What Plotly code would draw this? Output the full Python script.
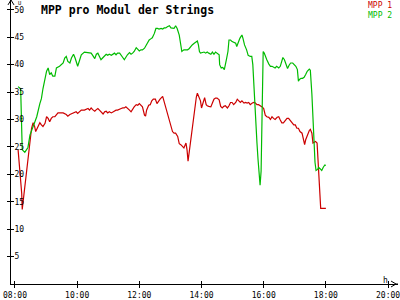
import plotly.graph_objects as go

title_text = "MPP pro Modul der Strings"
series_names = ["MPP 1", "MPP 2"]
series_colors = ["#cc0000", "#00bb00"]

# MPP 1 (red)
t_mpp1 = ["08:06","08:10","08:13","08:14","08:17","08:21","08:24","08:27","08:29","08:32",
          "08:35","08:38","08:40","08:45","08:48","08:51","08:54","08:58","09:01","09:04",
          "09:07","09:10","09:13","09:17","09:20","09:23","09:26","09:33","09:39","09:42",
          "09:46","09:52","09:58","10:01","10:05","10:08","10:14","10:21","10:24","10:27",
          "10:30","10:34","10:37","10:40","10:43","10:46","10:50","10:53","10:56","10:59",
          "11:02","11:06","11:09","11:12","11:15","11:18","11:22","11:25","11:28","11:31",
          "11:34","11:37","11:41","11:44","11:47","11:50","11:54","11:57","12:00","12:03",
          "12:06","12:10","12:12","12:14","12:18","12:21","12:24","12:27","12:31","12:34",
          "12:37","12:40","12:45","12:48","12:51","12:54","12:58","13:01","13:04","13:07",
          "13:10","13:14","13:17","13:20","13:23","13:26","13:30","13:32","13:34","13:36",
          "13:39","13:41","13:44","13:46","13:48","13:50","13:52","13:55","13:58","14:00",
          "14:04","14:06","14:09","14:11","14:14","14:18","14:21","14:24","14:27","14:30",
          "14:34","14:37","14:40","14:43","14:46","14:50","14:53","14:56","14:59","15:02",
          "15:06","15:09","15:12","15:15","15:18","15:22","15:25","15:28","15:31","15:34",
          "15:38","15:41","15:44","15:47","15:50","15:54","15:57","16:00","16:03","16:06",
          "16:10","16:13","16:16","16:19","16:22","16:26","16:29","16:32","16:35","16:38",
          "16:42","16:45","16:48","16:51","16:54","16:58","17:01","17:04","17:07","17:10",
          "17:14","17:17","17:19","17:21","17:24","17:28","17:30","17:33","17:35","17:37",
          "17:40","17:43","17:45","17:47","17:49","17:50","18:00"]
mpp1 = [24.5,20.0,16.5,13.6,16.0,19.5,22.5,25.0,26.8,28.4,
        29.4,28.7,27.8,28.7,29.4,29.0,28.7,29.3,30.5,30.2,
        29.6,30.2,30.5,30.5,30.8,31.2,31.2,31.2,30.9,30.6,
        30.9,31.2,31.4,31.1,31.4,31.7,31.7,32.0,31.7,32.1,
        31.8,31.5,31.8,32.0,31.7,31.4,31.0,31.4,31.5,31.2,
        31.4,31.2,31.4,31.5,31.7,31.7,31.8,32.0,32.1,32.1,
        32.3,32.1,31.7,31.4,32.0,32.3,32.7,32.6,32.9,32.6,
        32.3,30.8,30.6,31.7,32.6,32.7,33.4,33.7,33.7,32.9,
        33.4,33.7,34.2,33.2,32.3,31.4,30.2,29.0,27.8,27.5,
        27.5,26.9,25.6,25.4,25.1,24.8,25.7,24.5,22.4,23.9,
        25.7,27.5,29.6,31.1,32.6,34.1,34.8,34.1,33.4,32.1,
        33.2,34.0,32.7,32.5,32.4,32.3,33.0,33.7,33.9,33.9,
        33.6,32.4,32.1,32.4,32.5,32.1,32.5,33.1,33.1,32.7,
        33.1,33.7,33.4,33.1,33.4,33.0,33.1,33.0,33.1,32.7,
        33.0,33.1,33.0,32.7,32.7,32.5,32.3,32.0,30.8,30.5,
        30.4,30.0,30.5,30.2,30.0,30.4,30.5,29.9,29.4,29.4,
        30.0,30.2,30.2,29.8,29.3,29.0,29.0,28.4,28.4,27.8,
        27.5,26.3,25.4,26.3,27.2,28.0,28.2,27.5,25.7,25.8,
        26.0,25.7,22.2,18.0,14.0,13.8,13.8]

# MPP 2 (green)
t_mpp2 = ["08:06","08:11","08:14","08:19","08:25","08:29","08:35","08:42","08:48","08:51",
          "08:54","08:58","09:01","09:04","09:07","09:10","09:13","09:17","09:20","09:26",
          "09:33","09:36","09:39","09:42","09:46","09:49","09:53","09:56","09:59","10:01",
          "10:05","10:08","10:14","10:21","10:27","10:30","10:34","10:37","10:40","10:43",
          "10:46","10:50","10:53","10:56","10:59","11:02","11:06","11:09","11:12","11:15",
          "11:18","11:22","11:25","11:28","11:31","11:34","11:37","11:41","11:44","11:47",
          "11:50","11:54","11:57","12:00","12:03","12:06","12:10","12:13","12:16","12:19",
          "12:22","12:25","12:29","12:32","12:35","12:38","12:42","12:45","12:48","12:51",
          "12:54","12:58","13:01","13:04","13:07","13:10","13:13","13:17","13:20","13:22",
          "13:26","13:30","13:33","13:36","13:39","13:42","13:46","13:49","13:52","13:54",
          "13:56","13:58","14:01","14:05","14:08","14:11","14:14","14:18","14:21","14:24",
          "14:27","14:30","14:34","14:35","14:38","14:41","14:44","14:48","14:51","14:53",
          "14:56","14:59","15:02","15:06","15:08","15:11","15:14","15:16","15:18","15:20",
          "15:23","15:27","15:30","15:34","15:37","15:39","15:41","15:43","15:45","15:47",
          "15:49","15:51","15:53","15:55","15:57","15:59","16:01","16:03","16:06","16:10",
          "16:13","16:16","16:19","16:22","16:25","16:29","16:32","16:35","16:37","16:40",
          "16:43","16:46","16:49","16:52","16:56","16:59","17:02","17:05","17:07","17:09",
          "17:12","17:15","17:18","17:21","17:24","17:28","17:30","17:33","17:35","17:37",
          "17:39","17:41","17:44","17:46","17:49","17:52","17:55","17:58","18:00"]
mpp2 = [36.0,35.6,24.5,24.0,24.9,27.2,28.7,30.5,32.9,33.8,
        35.6,37.4,38.8,39.4,38.2,38.5,37.9,37.9,39.4,39.7,
        40.3,41.2,41.5,40.6,40.3,41.2,41.9,41.2,40.2,39.7,
        40.9,41.8,42.3,42.2,42.1,41.7,41.1,41.9,42.1,41.5,
        40.9,41.3,41.7,41.9,41.7,41.9,41.7,41.9,42.1,41.8,
        42.1,42.1,41.8,41.3,40.9,41.5,41.8,42.2,41.9,42.1,
        42.4,43.1,42.7,42.5,42.7,42.7,43.0,43.6,44.1,44.5,
        44.7,44.9,45.7,46.6,46.6,46.5,46.6,46.5,46.7,46.7,
        46.9,47.1,46.7,46.7,46.6,47.1,46.6,45.4,43.6,42.4,
        42.7,42.7,42.7,42.9,43.3,43.6,43.9,44.1,44.3,43.6,
        42.4,42.1,42.2,42.3,42.1,42.3,42.1,41.9,42.3,41.9,
        42.3,42.1,41.8,40.0,39.4,39.5,39.1,40.9,42.4,44.5,
        44.5,44.2,44.1,43.9,43.3,44.2,44.8,45.1,45.4,44.8,
        43.6,42.7,41.7,41.5,41.5,40.0,35.8,31.1,27.8,25.7,
        22.8,19.7,18.0,20.6,36.4,42.4,42.1,41.5,40.9,40.1,
        39.7,39.7,39.5,39.4,39.7,39.4,39.7,40.9,41.3,40.9,
        39.9,39.3,39.9,40.3,40.3,40.0,39.7,39.1,37.0,37.3,
        37.5,37.5,37.7,38.2,38.8,39.2,39.0,34.6,29.3,24.5,
        22.2,20.7,20.9,21.3,20.9,20.7,21.3,21.7,21.6]

x_ticks = ["08:00", "10:00", "12:00", "14:00", "16:00", "18:00", "20:00"]
y_ticks = [5, 10, 15, 20, 25, 30, 35, 40, 45, 50]
x_range = ["07:52:20", "20:19:10"]
y_range = [0, 51.79]
y_unit = "U"
x_unit = "h"

DAY = "2024-01-01 "
def d(t):
    return DAY + t

W, H = 400, 300
ML, MR, MT, MB = 11, 0, 0, 10
PW, PH = W - ML - MR, H - MT - MB

def px(x):
    return (x - ML) / PW

def py(y):
    return 1 - (y - MT) / PH

MONO = "DejaVu Sans Mono"

fig = go.Figure()
for name, col, tt, vv in [(series_names[0], series_colors[0], t_mpp1, mpp1),
                          (series_names[1], series_colors[1], t_mpp2, mpp2)]:
    fig.add_trace(go.Scatter(x=[d(t) for t in tt], y=vv, mode="lines", name=name,
                             line=dict(color=col, width=1.2), showlegend=False))

axis_common = dict(showgrid=False, zeroline=False)
fig.update_layout(
    width=W, height=H,
    margin=dict(l=ML, r=MR, t=MT, b=MB),
    paper_bgcolor="#ffffff", plot_bgcolor="#ffffff",
    xaxis=dict(type="date", range=[d(x_range[0]), d(x_range[1])],
               tickvals=[d(t) for t in x_ticks], ticktext=x_ticks,
               ticks="outside", ticklen=3, tickcolor="#000", tickwidth=1,
               ticklabeloverflow="allow",
               showline=True, linecolor="#000", linewidth=1,
               tickfont=dict(family=MONO, size=8, color="#000"), **axis_common),
    yaxis=dict(range=y_range, tickvals=y_ticks,
               ticks="outside", ticklen=3, tickcolor="#000", tickwidth=1,
               ticklabelposition="inside", ticklabelstandoff=2,
               ticklabeloverflow="allow",
               showline=True, linecolor="#000", linewidth=1,
               tickfont=dict(family=MONO, size=8, color="#000"), **axis_common),
    xaxis2=dict(type="date", range=[d(x_range[0]), d(x_range[1])], overlaying="x",
                tickvals=[d(t) for t in x_ticks], ticks="inside", ticklen=3,
                tickcolor="#000", showticklabels=False, showline=False, **axis_common),
    yaxis2=dict(range=y_range, overlaying="y", tickvals=y_ticks, ticks="inside", ticklen=3,
                tickcolor="#000", showticklabels=False, showline=False, **axis_common),
)
# invisible trace to activate the secondary axes for crossing tick marks
fig.add_trace(go.Scatter(x=[d(x_range[0])], y=[0], xaxis="x2", yaxis="y2",
                         mode="markers", marker=dict(opacity=0), showlegend=False,
                         hoverinfo="skip"))

# axis arrowheads
shapes = []
ax_y = H - MB
shapes.append(dict(type="path", xref="paper", yref="paper",
                   path=f"M {px(393)} {py(ax_y-3)} L {px(398)} {py(ax_y)} L {px(393)} {py(ax_y+3)}",
                   line=dict(color="#000", width=1)))
shapes.append(dict(type="path", xref="paper", yref="paper",
                   path=f"M {px(8)} {py(5)} L {px(11)} {py(0)} L {px(14)} {py(5)}",
                   line=dict(color="#000", width=1)))
shapes.append(dict(type="line", xref="paper", yref="paper",
                   x0=1, x1=px(398), y0=0, y1=0,
                   line=dict(color="#000", width=1)))
fig.update_layout(shapes=shapes)

ann = []
ann.append(dict(text=f"<b>{title_text}</b>", xref="paper", yref="paper",
                x=px(39), y=py(1), xanchor="left", yanchor="top", showarrow=False,
                font=dict(family=MONO, size=11.5, color="#000")))
legend_text = "<br>".join(f"<span style='color:{c}'>{n}</span>"
                          for n, c in zip(series_names, series_colors))
ann.append(dict(text=legend_text, xref="paper", yref="paper",
                x=px(396), y=py(-1), xanchor="right", yanchor="top", align="right",
                showarrow=False, font=dict(family=MONO, size=8)))
ann.append(dict(text=y_unit, xref="paper", yref="paper",
                x=px(16), y=py(-2), xanchor="left", yanchor="top", showarrow=False,
                font=dict(family=MONO, size=5.5, color="#000")))
ann.append(dict(text=x_unit, xref="paper", yref="paper",
                x=px(387), y=py(293), xanchor="center", yanchor="bottom", showarrow=False,
                font=dict(family=MONO, size=8, color="#000")))
fig.update_layout(annotations=ann)

fig.write_html("out.html")
